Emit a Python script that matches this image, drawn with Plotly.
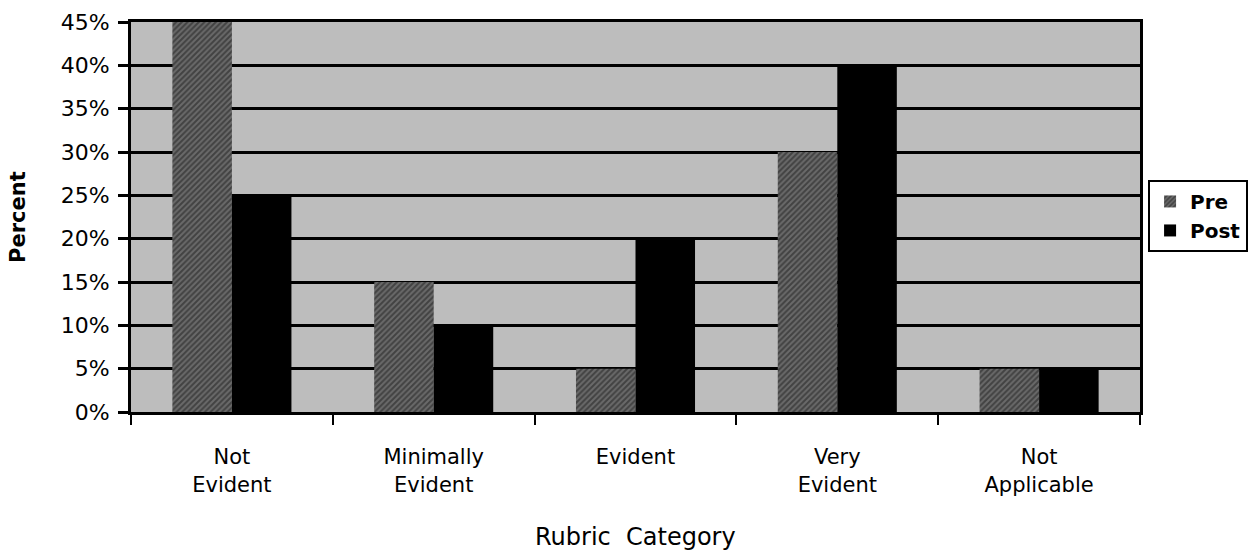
import plotly.graph_objects as go

categories = ["Not<br>Evident", "Minimally<br>Evident", "Evident", "Very<br>Evident", "Not<br>Applicable"]
pre_values = [45, 15, 5, 30, 5]
post_values = [25, 10, 20, 40, 5]
y_ticks = [0, 5, 10, 15, 20, 25, 30, 35, 40, 45]
y_tick_labels = [f"{v}%" for v in y_ticks]

FONT = "DejaVu Sans"

fig = go.Figure()
fig.add_trace(go.Bar(
    name="Pre", x=categories, y=pre_values,
    marker=dict(color="#555555", line=dict(width=0),
                pattern=dict(shape="/", fgcolor="#1a1a1a", bgcolor="#6a6a6a", size=4, solidity=0.5)),
))
fig.add_trace(go.Bar(
    name="Post", x=categories, y=post_values,
    marker=dict(color="#000000", line=dict(width=0)),
))

fig.update_layout(
    width=1251, height=552,
    margin=dict(l=131, r=111, t=22, b=140, autoexpand=False),
    paper_bgcolor="white",
    plot_bgcolor="#bdbdbd",
    barmode="group", bargap=0.41, bargroupgap=0,
    font=dict(family=FONT, size=20, color="black"),
    showlegend=True,
    legend=dict(x=1.008, y=0.595, xanchor="left", yanchor="top",
                bordercolor="black", borderwidth=2, bgcolor="white",
                font=dict(family=FONT, size=20, color="black", weight="bold"),
                itemwidth=30, tracegroupgap=0),
    xaxis=dict(
        automargin=False,
        showline=True, linecolor="black", linewidth=3, mirror=True,
        ticks="outside", ticklen=10, tickwidth=2, tickcolor="black",
        tickson="boundaries", showgrid=False,
        ticklabelstandoff=24,
        tickfont=dict(family=FONT, size=21),
        title=dict(text=""),
    ),
    yaxis=dict(
        automargin=False,
        range=[0, 45], tickvals=y_ticks, ticktext=y_tick_labels,
        showline=True, linecolor="black", linewidth=3, mirror=True,
        ticks="outside", ticklen=10, tickwidth=3, tickcolor="black",
        showgrid=True, gridcolor="black", gridwidth=3,
        zeroline=False,
        ticklabelstandoff=4,
        tickfont=dict(family=FONT, size=22),
        title=dict(text=""),
    ),
    annotations=[
        dict(text="Rubric  Category", xref="paper", yref="paper", x=0.5, y=-0.3205,
             xanchor="center", yanchor="middle", showarrow=False,
             font=dict(family=FONT, size=24)),
        dict(text="<b>Percent</b>", xref="paper", yref="paper", x=-0.112, y=0.5,
             xanchor="center", yanchor="middle", showarrow=False, textangle=-90,
             font=dict(family=FONT, size=21)),
    ],
)

fig.write_html("out.html", config={"displayModeBar": False},
               post_script="document.body.style.margin='0px';")
